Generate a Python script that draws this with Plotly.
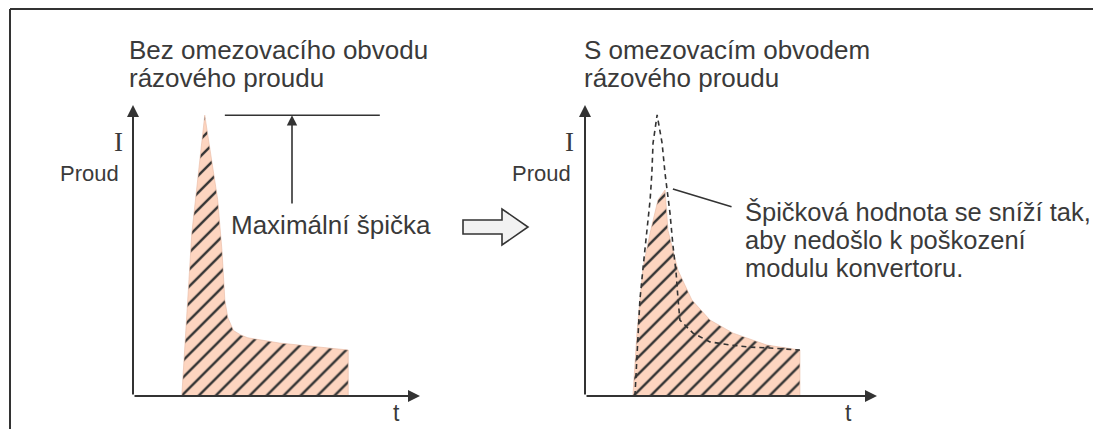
import plotly.graph_objects as go

# ---------------- data (t in arbitrary time units, I in arbitrary current units) ----------------
# Left panel: without inrush-current limiting circuit
left_t = [1.70, 2.05, 2.50, 2.95, 3.10, 3.20, 3.30, 3.50, 3.75, 4.00, 5.10, 6.50, 7.50, 7.50]
left_I = [0.00, 5.60, 9.65, 6.75, 5.00, 3.30, 2.70, 2.25, 2.10, 2.00, 1.82, 1.68, 1.58, 0.00]

# Right panel: with limiting circuit (limited current, filled)
right_t = [1.64, 1.78, 1.88, 1.99, 2.23, 2.50, 2.74, 2.84, 3.18, 3.66, 4.28, 5.07, 6.23, 7.36, 7.36]
right_I = [0.00, 2.16, 3.30, 4.43, 5.60, 6.74, 7.08, 5.70, 4.33, 3.30, 2.61, 2.16, 1.75, 1.58, 0.00]

# Right panel: original (unlimited) current, dashed
orig_t = [1.71, 1.82, 1.88, 1.99, 2.12, 2.23, 2.29, 2.33, 2.47, 2.64, 2.74, 2.91, 3.01, 3.12,
          3.18, 3.25, 3.70, 4.28, 4.97, 5.65, 6.34, 7.36]
orig_I = [0.00, 2.16, 3.30, 4.43, 5.60, 6.74, 7.66, 8.69, 9.66, 8.69, 7.66, 6.29, 5.19, 4.23,
          3.40, 2.61, 2.16, 1.86, 1.75, 1.68, 1.65, 1.58]

peak_level = 9.65          # maximum peak (left)
peak_line_t = [3.20, 8.60]
peak_arrow_t = 5.54
peak_arrow_from = 6.56

title_left = ["Bez omezovacího obvodu", "rázového proudu"]
title_right = ["S omezovacím obvodem", "rázového proudu"]
note_right = ["Špičková hodnota se sníží tak,", "aby nedošlo k poškození", "modulu konvertoru."]
peak_label = "Maximální špička"
y_label = "Proud"
y_symbol = "I"
x_symbol = "t"

# ---------------- layout geometry ----------------
# the page body has an 8 px margin, so the figure is placed at (8, 8)
OX, OY = 8, 8
W, H = 1101 - OX, 429 - OY
INK = "#333333"
TXT = "#3a3a3a"
PEACH = "#fdd5c0"
FONT = "Liberation Sans, Arial, sans-serif"
FS = 26


def pxp(x, y):
    """window pixel -> paper coordinates"""
    return (x - OX) / W, 1 - (y - OY) / H


XL = (pxp(133, 0)[0], pxp(420, 0)[0])
XR = (pxp(585, 0)[0], pxp(877, 0)[0])
YD = (pxp(0, 396)[1], pxp(0, 105)[1])
RANGE = [0, 10]


def d2p(t, i, panel):
    dom = XL if panel == "L" else XR
    px_ = dom[0] + (t - RANGE[0]) / (RANGE[1] - RANGE[0]) * (dom[1] - dom[0])
    py_ = YD[0] + (i - RANGE[0]) / (RANGE[1] - RANGE[0]) * (YD[1] - YD[0])
    return px_, py_


fig = go.Figure()

hatch = dict(shape="/", size=12, solidity=0.2, fgcolor=INK, bgcolor=PEACH, fillmode="replace")

fig.add_trace(go.Scatter(x=left_t, y=left_I, mode="lines", fill="toself",
                         fillcolor=PEACH, fillpattern=hatch,
                         line=dict(width=0.6, color="#e8b9a2"), hoverinfo="skip",
                         xaxis="x", yaxis="y", showlegend=False))
fig.add_trace(go.Scatter(x=peak_line_t, y=[peak_level, peak_level], mode="lines",
                         line=dict(width=1.6, color=INK), xaxis="x", yaxis="y",
                         showlegend=False, hoverinfo="skip"))

fig.add_trace(go.Scatter(x=right_t, y=right_I, mode="lines", fill="toself",
                         fillcolor=PEACH, fillpattern=hatch,
                         line=dict(width=0.6, color="#e8b9a2"), hoverinfo="skip",
                         xaxis="x2", yaxis="y2", showlegend=False))
fig.add_trace(go.Scatter(x=orig_t, y=orig_I, mode="lines",
                         line=dict(width=1.6, color=INK, dash="5px,4px"),
                         xaxis="x2", yaxis="y2", showlegend=False, hoverinfo="skip"))

ax_common = dict(visible=False, range=RANGE, fixedrange=True)
fig.update_layout(
    width=W, height=H,
    margin=dict(l=0, r=0, t=0, b=0),
    paper_bgcolor="white", plot_bgcolor="rgba(0,0,0,0)",
    xaxis=dict(domain=list(XL), **ax_common),
    yaxis=dict(domain=list(YD), **ax_common),
    xaxis2=dict(domain=list(XR), anchor="y2", **ax_common),
    yaxis2=dict(domain=list(YD), anchor="x2", **ax_common),
    showlegend=False,
)

ann = []
# axes with arrowheads
for xr, yr in (("x", "y"), ("x2", "y2")):
    ann.append(dict(x=0, y=10, ax=0, ay=0, xref=xr, yref=yr, axref=xr, ayref=yr,
                    showarrow=True, arrowhead=2, arrowsize=1.2, arrowwidth=2,
                    arrowcolor=INK, text=""))
    ann.append(dict(x=10, y=0, ax=0, ay=0, xref=xr, yref=yr, axref=xr, ayref=yr,
                    showarrow=True, arrowhead=2, arrowsize=1.2, arrowwidth=2,
                    arrowcolor=INK, text=""))

# peak arrow (left)
ann.append(dict(x=peak_arrow_t, y=peak_level, ax=peak_arrow_t, ay=peak_arrow_from,
                xref="x", yref="y", axref="x", ayref="y", showarrow=True,
                arrowhead=2, arrowsize=1.3, arrowwidth=1.6, arrowcolor=INK, text=""))
# leader line (right)
ann.append(dict(x=3.01, y=7.11, ax=5.07, ay=6.49, xref="x2", yref="y2",
                axref="x2", ayref="y2", showarrow=True, arrowhead=0,
                arrowwidth=1.6, arrowcolor=INK, text=""))


def txt(text, t, i, panel, xanchor="left", size=FS, family=FONT):
    x, y = d2p(t, i, panel)
    return dict(text=text, x=x, y=y, xref="paper", yref="paper", showarrow=False,
                xanchor=xanchor, yanchor="middle", borderpad=0,
                font=dict(family=family, size=size, color=TXT))


ann.append(txt(title_left[0], -0.17, 11.89, "L"))
ann.append(txt(title_left[1], -0.17, 10.93, "L"))
ann.append(txt(title_right[0], -0.07, 11.89, "R"))
ann.append(txt(title_right[1], -0.07, 10.93, "R"))
ann.append(txt(peak_label, 3.38, 5.88, "L"))
for k, line in enumerate(note_right):
    ann.append(txt(line, 5.44, 6.32 - k * 0.96, "R", size=25.5))

for panel in ("L", "R"):
    ann.append(txt(y_symbol, -0.52, 8.73, panel, xanchor="center", size=27,
                   family="Liberation Serif, Times New Roman, serif"))
    ann.append(txt(y_label, -0.45, 7.66, panel, xanchor="right", size=22))
ann.append(txt(x_symbol, 9.02, -0.58, "L", size=23))
ann.append(txt(x_symbol, 8.87, -0.58, "R", size=23))

fig.update_layout(annotations=ann)

# frame and hollow arrow (decorative, paper coordinates)
shapes = []
x0, y0 = pxp(10, 429)
x1, y1 = pxp(10, 9)
shapes.append(dict(type="line", xref="paper", yref="paper", x0=x0, y0=y0, x1=x1, y1=y1,
                   line=dict(color=INK, width=2)))
xb, yb = pxp(1101, 9)
shapes.append(dict(type="line", xref="paper", yref="paper", x0=x1, y0=y1, x1=xb, y1=yb,
                   line=dict(color=INK, width=2)))
arrow_px = [(463, 220), (502, 220), (502, 209), (528, 227), (502, 245), (502, 234), (463, 234)]
pts = [pxp(a, b) for a, b in arrow_px]
path = "M " + " L ".join(f"{a:.5f},{b:.5f}" for a, b in pts) + " Z"
shapes.append(dict(type="path", xref="paper", yref="paper", path=path,
                   fillcolor="#f2f2f2", line=dict(color=INK, width=1.6)))
fig.update_layout(shapes=shapes)

fig.write_html("out.html")
